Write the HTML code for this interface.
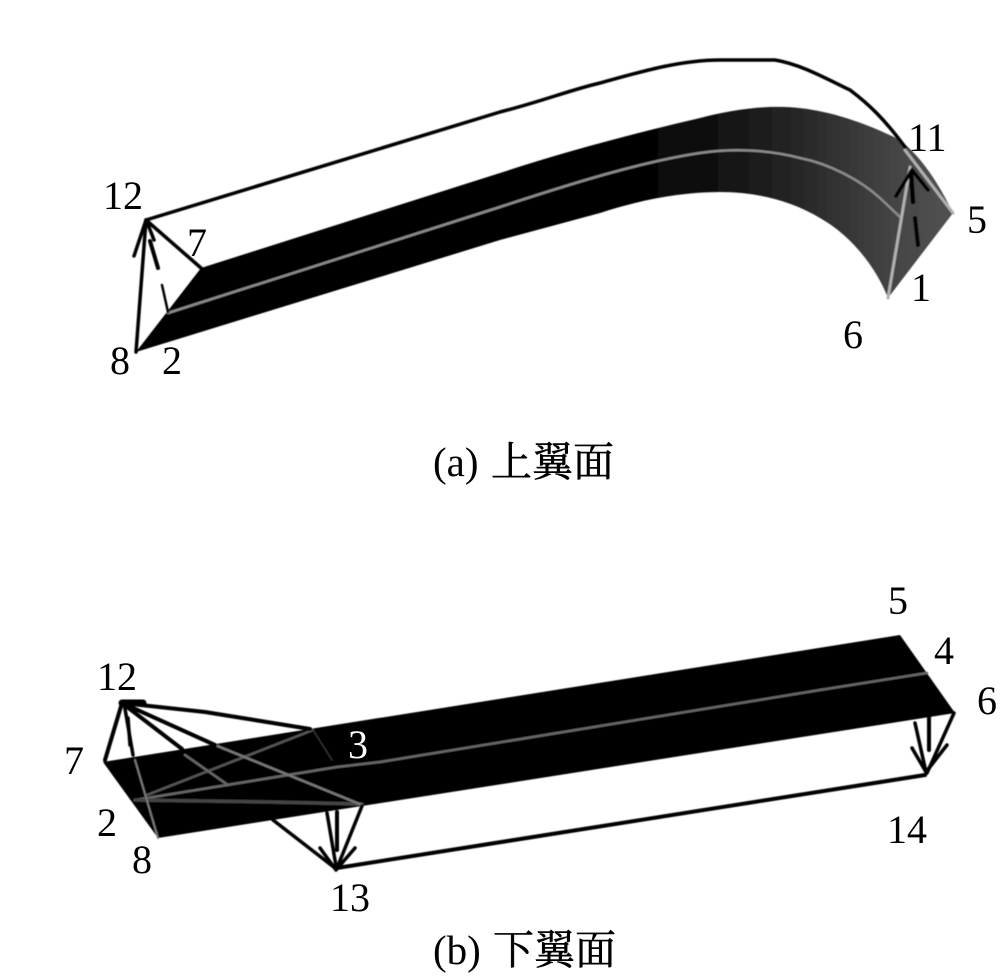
<!DOCTYPE html>
<html>
<head>
<meta charset="utf-8">
<style>
html,body{margin:0;padding:0;background:#fff;width:1000px;height:977px;overflow:hidden}
svg{display:block}
text{font-family:"Liberation Serif","Noto Serif CJK SC",serif;font-size:40px;fill:#000}
.cap{font-size:41px;stroke:#000;stroke-width:.5px}
</style>
</head>
<body>
<svg width="1000" height="977" viewBox="0 0 1000 977" xmlns="http://www.w3.org/2000/svg">
<defs>
<linearGradient id="g" gradientUnits="userSpaceOnUse" x1="620" y1="0" x2="940" y2="0">
<stop offset="0" stop-color="#000"/>
<stop offset="0.3" stop-color="#111"/>
<stop offset="0.55" stop-color="#262626"/>
<stop offset="0.85" stop-color="#444"/>
<stop offset="1" stop-color="#505050"/>
</linearGradient>
<filter id="b" x="-5%" y="-5%" width="110%" height="110%"><feGaussianBlur stdDeviation="0.5"/></filter>
</defs>

<g filter="url(#b)" fill="none" stroke-linecap="round" stroke-linejoin="round">
<!-- upper wing band -->
<path d="M201 268 L500 173 C570 150 640 132 700 118 C730 110 760 106 785 107 C820 108 860 120 900 140 C925 160 942 190 953 213 L888 298 C875 265 850 235 820 218 C790 200 755 192 720 192 C680 192 640 200 600 213 L500 240 L136 352 Z" fill="url(#g)"/>
<path d="M168 313 L500 207 C570 184 640 162 700 153 C735 148 770 150 800 158 C830 164 860 180 880 198 L900 217" stroke="#8a8a8a" stroke-width="2.5"/>
<path d="M888 298 L910 167" stroke="#b0b0b0" stroke-width="3"/>
<path d="M905 150 L953 213" stroke="#b0b0b0" stroke-width="3"/>

<!-- upper curve -->
<path d="M146 220 L500 112 C540 102 570 90 600 83 C640 72 680 60 720 60 L775 60 C800 64 825 78 850 90 C870 105 885 120 905 147" stroke="#000" stroke-width="3.5"/>
<path d="M146 220 L201 268 M146 220 L136 352" stroke="#000" stroke-width="3.5"/>
<path d="M146 220 L134 256 M147 222 L154 240" stroke="#000" stroke-width="3.5"/>
<path d="M150 241 L158 268" stroke="#000" stroke-width="4"/>
<path d="M162 285 L168 312" stroke="#000" stroke-width="2.5"/>
<path d="M912 170 L896 196 M912 170 L928 190" stroke="#000" stroke-width="3.5"/>
<path d="M911 172 L913 202" stroke="#000" stroke-width="4.5"/>
<path d="M915 218 L918 245" stroke="#000" stroke-width="4"/>

<!-- lower wing band -->
<path d="M103 762 L900 635 L955 713 L158 838 Z" fill="#000"/>
<path d="M135 800 L227 785 L337 767 L380 762 L820 690 L927 673" stroke="#666" stroke-width="2.5"/>
<path d="M135 800 L270 802 L362 804" stroke="#444" stroke-width="3.5"/>
<path d="M147 795 L313 730" stroke="#555" stroke-width="2.5"/>
<path d="M135 760 L158 838" stroke="#777" stroke-width="2"/>
<path d="M215 745 L362 805" stroke="#777" stroke-width="2.5"/>
<path d="M185 755 L228 785" stroke="#666" stroke-width="2.5"/>
<path d="M313 730 L332 760" stroke="#333" stroke-width="1.5"/>

<!-- lower wing connectors -->
<path d="M122 703 L143 703" stroke="#000" stroke-width="7"/>
<path d="M122 703 L205 712 L310 729" stroke="#000" stroke-width="4"/>
<path d="M122 703 L215 745" stroke="#000" stroke-width="4"/>
<path d="M122 703 L182 749" stroke="#000" stroke-width="4"/>
<path d="M122 703 L105 760" stroke="#000" stroke-width="4"/>
<path d="M124 703 L133 755" stroke="#000" stroke-width="3.5"/>
<path d="M128 718 L130 745" stroke="#000" stroke-width="3.5"/>
<path d="M273 820 L335 868" stroke="#000" stroke-width="3.5"/>
<path d="M327 813 L336 866" stroke="#000" stroke-width="3.5"/>
<path d="M337 812 L337 850" stroke="#000" stroke-width="4"/>
<path d="M362 806 L337 868" stroke="#000" stroke-width="3.5"/>
<path d="M320 848 L336 870 M355 848 L336 870" stroke="#000" stroke-width="3.5"/>
<path d="M337 868 L925 775" stroke="#000" stroke-width="4"/>
<path d="M954 713 L927 773" stroke="#000" stroke-width="3.5"/>
<path d="M915 723 L926 772" stroke="#000" stroke-width="3.5"/>
<path d="M929 715 L929 750" stroke="#000" stroke-width="4"/>
<path d="M912 748 L926 772 M947 745 L926 772" stroke="#000" stroke-width="3.5"/>
</g>

<!-- upper labels -->
<text x="103" y="209">12</text>
<text x="187" y="256">7</text>
<text x="110" y="374">8</text>
<text x="162" y="374">2</text>
<text x="908" y="151">11</text>
<text x="967" y="233">5</text>
<text x="911" y="301">1</text>
<text x="843" y="348">6</text>
<text class="cap" x="433" y="476" style="stroke-width:0">(a)</text>
<text class="cap" x="491" y="476">上翼面</text>

<!-- lower labels -->
<text x="97" y="690">12</text>
<text x="64" y="774">7</text>
<text x="97" y="836">2</text>
<text x="132" y="873">8</text>
<text x="348" y="758" style="fill:#fff">3</text>
<text x="888" y="614">5</text>
<text x="934" y="664">4</text>
<text x="977" y="714">6</text>
<text x="887" y="843">14</text>
<text x="330" y="911">13</text>
<text class="cap" x="433" y="964" style="stroke-width:0">(b)</text>
<text class="cap" x="493" y="964">下翼面</text>
</svg>
</body>
</html>
